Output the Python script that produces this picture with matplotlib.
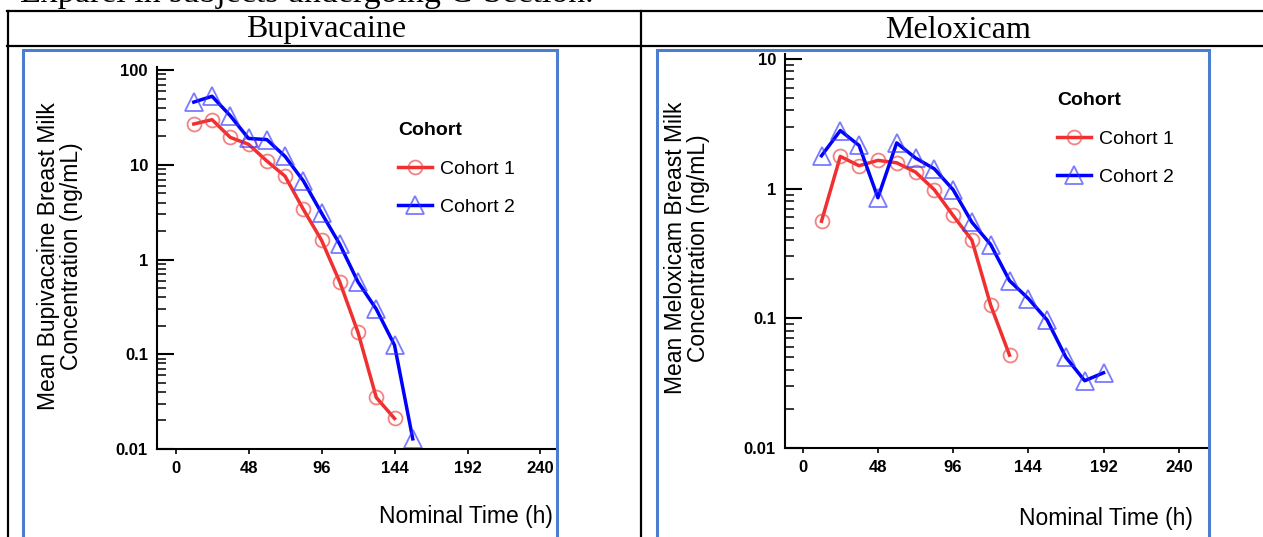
import numpy as np
import matplotlib
matplotlib.use("Agg")
import matplotlib.pyplot as plt
from matplotlib import ticker
from matplotlib.patches import Rectangle
from matplotlib.lines import Line2D

# --- data ---
bupi_c1_t = [12, 24, 36, 48, 60, 72, 84, 96, 108, 120, 132, 144]
bupi_c1 = [27, 30, 19.5, 16.5, 11, 7.6, 3.4, 1.6, 0.58, 0.17, 0.035, 0.021]
bupi_c2_t = [12, 24, 36, 48, 60, 72, 84, 96, 108, 120, 132, 144, 156]
bupi_c2 = [46, 53, 33, 19, 18.5, 12.3, 6.8, 3.1, 1.45, 0.58, 0.30, 0.125, 0.0128]

melo_c1_t = [12, 24, 36, 48, 60, 72, 84, 96, 108, 120, 132]
melo_c1 = [0.56, 1.77, 1.50, 1.65, 1.58, 1.34, 0.98, 0.62, 0.40, 0.126, 0.052]
melo_c2_t = [12, 24, 36, 48, 60, 72, 84, 96, 108, 120, 132, 144, 156, 168, 180, 192]
melo_c2 = [1.79, 2.8, 2.15, 0.85, 2.25, 1.72, 1.42, 0.98, 0.55, 0.37, 0.195,
           0.142, 0.097, 0.050, 0.033, 0.038]

x_ticks = [0, 48, 96, 144, 192, 240]
panel_titles = ["Bupivacaine", "Meloxicam"]
ylabels = ["Mean Bupivacaine Breast Milk\nConcentration (ng/mL)",
           "Mean Meloxicam Breast Milk\nConcentration (ng/mL)"]
cohort_labels = ["Cohort 1", "Cohort 2"]

W, H = 1263, 537
SANS = "Liberation Sans"
SERIF = "Liberation Serif"

def fx(x):
    return x / W

def fy(y):
    return 1 - y / H

fig = plt.figure(figsize=(W / 100, H / 100), dpi=100)
fig.patch.set_facecolor("white")

# document table around the charts
line_kw = dict(color="black", lw=1.6, transform=fig.transFigure)
fig.add_artist(Line2D([fx(7), 1], [fy(11), fy(11)], **line_kw))
fig.add_artist(Line2D([fx(7), 1], [fy(46), fy(46)], **line_kw))
fig.add_artist(Line2D([fx(8), fx(8)], [fy(11), 0], **line_kw))
fig.add_artist(Line2D([fx(641), fx(641)], [fy(11), 0], **line_kw))
# caption line above the table, cut by the top edge as in the screenshot
fig.text(fx(20), fy(2), "Exparel in subjects undergoing C-Section.",
         family=SERIF, size=24.5, va="baseline", ha="left")
fig.text(fx(326), fy(30), panel_titles[0], family=SERIF, size=23,
         ha="center", va="center")
fig.text(fx(958), fy(30), panel_titles[1], family=SERIF, size=23,
         ha="center", va="center")

# blue picture frames
box_col = "#4d7dcf"
for x0, x1 in [(23, 557), (657, 1209)]:
    fig.add_artist(Rectangle((fx(x0), fy(545)), fx(x1) - fx(x0), fy(50) - fy(545),
                             fill=False, ec=box_col, lw=2.2,
                             transform=fig.transFigure))

red = "#f03030"
blue = "#0000ff"
red_m = (0.94, 0.25, 0.25, 0.65)
blue_m = (0.2, 0.2, 1.0, 0.65)


def setup(ax, xlim, ylim, ylabel, ylab_xy, xlab_xy):
    ax.set_yscale("log")
    ax.set_xlim(*xlim)
    ax.set_ylim(*ylim)
    for s in ["top", "right"]:
        ax.spines[s].set_visible(False)
    for s in ["left", "bottom"]:
        ax.spines[s].set_linewidth(1.5)
    ax.set_xticks(x_ticks)
    ax.yaxis.set_major_locator(ticker.LogLocator(base=10))
    ax.yaxis.set_minor_locator(ticker.LogLocator(base=10, subs=np.arange(2, 10)))
    ax.yaxis.set_major_formatter(ticker.FuncFormatter(lambda v, p: f"{v:g}"))
    ax.yaxis.set_minor_formatter(ticker.NullFormatter())
    ax.tick_params(axis="y", which="major", direction="in", length=12, width=1.5, pad=6.5)
    ax.tick_params(axis="y", which="minor", direction="in", length=6.5, width=1.1)
    ax.tick_params(axis="x", direction="out", length=3.5, width=1.2, pad=5)
    for lab in ax.get_xticklabels() + ax.get_yticklabels():
        lab.set_family(SANS)
        lab.set_weight("bold")
        lab.set_size(12)
    ax.set_ylabel(ylabel, family=SANS, size=16.5, linespacing=1.0, va="center")
    ax.yaxis.set_label_coords(*ylab_xy)
    ax.set_xlabel("Nominal Time (h)", family=SANS, size=16.5, ha="right", va="center")
    ax.xaxis.set_label_coords(*xlab_xy)


def cohorts(ax, t1, v1, t2, v2, leg_xy):
    ax.plot(t1, v1, color=red, lw=2.5, marker="o", ms=10, mfc="none",
            mec=red_m, mew=1.3, label=cohort_labels[0], clip_on=False)
    ax.plot(t2, v2, color=blue, lw=2.5, marker="^", ms=13, mfc="none",
            mec=blue_m, mew=1.3, label=cohort_labels[1], clip_on=False)
    ax.legend(title="Cohort", loc="upper left",
              bbox_to_anchor=(fx(leg_xy[0]), fy(leg_xy[1])),
              bbox_transform=fig.transFigure, frameon=False,
              prop=dict(family=SANS, size=14),
              title_fontproperties=dict(family=SANS, weight="bold", size=14),
              alignment="left", handlelength=1.75, handletextpad=0.4,
              labelspacing=1.08, borderpad=0, borderaxespad=0)


# Bupivacaine panel
ax1 = fig.add_axes([fx(157), fy(449), fx(556) - fx(157), fy(67) - fy(449)])
cohorts(ax1, bupi_c1_t, bupi_c1, bupi_c2_t, bupi_c2, (398, 122))
setup(ax1, (-12.2, 250.2), (0.01, 108), ylabels[0], (-0.243, 0.505),
      ((553 - 157) / 399, (449 - 516) / 382))

# Meloxicam panel
ax2 = fig.add_axes([fx(785), fy(448), fx(1208) - fx(785), fy(54) - fy(448)])
cohorts(ax2, melo_c1_t, melo_c1, melo_c2_t, melo_c2, (1057, 92))
setup(ax2, (-11.3, 258.7), (0.01, 10.9), ylabels[1], (-0.232, 0.508),
      ((1193 - 785) / 423, (448 - 518) / 394))

fig.savefig("out.png", dpi=100, facecolor="white")
